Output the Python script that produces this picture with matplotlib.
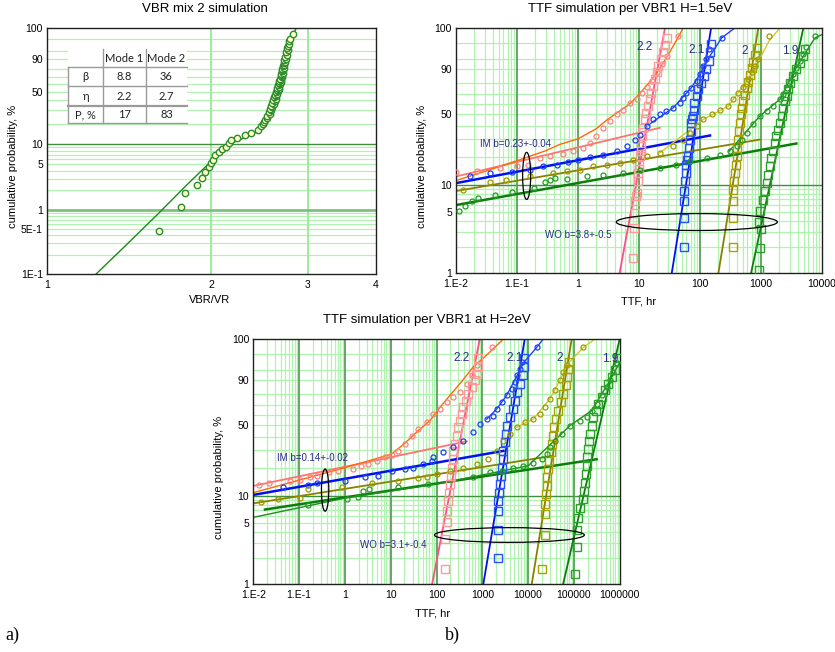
import numpy as np
import matplotlib
matplotlib.use("Agg")
import matplotlib.pyplot as plt
from matplotlib.patches import Ellipse, Rectangle
from matplotlib.lines import Line2D

# ---------------- data: a) VBR mixture ----------------
vbr_x = [1.60, 1.757, 1.79, 1.88, 1.92, 1.95, 1.98, 2.0, 2.01, 2.03, 2.06, 2.09, 2.13, 2.15,
         2.17, 2.23, 2.30, 2.36, 2.43, 2.46,
         2.48, 2.50, 2.505, 2.53, 2.525, 2.555, 2.545, 2.57, 2.56, 2.585, 2.575, 2.60, 2.585,
         2.61, 2.595, 2.62, 2.605, 2.625, 2.615, 2.64, 2.625, 2.645, 2.635, 2.655, 2.64, 2.66,
         2.648, 2.668, 2.655, 2.675, 2.66, 2.68, 2.668, 2.69, 2.675, 2.695, 2.682, 2.70, 2.688,
         2.708, 2.695, 2.715, 2.70, 2.72, 2.71, 2.728, 2.718, 2.735, 2.728, 2.745, 2.74, 2.755,
         2.75, 2.765, 2.77, 2.775, 2.78, 2.815]
vbr_p = [0.46, 1.1, 1.8, 2.45, 3.1, 3.8, 4.5, 5.2, 5.8, 6.9, 7.7, 8.5, 9.3, 10.4,
         11.6, 12.5, 13.7, 14.8, 16.3, 18.2,
         19.5, 21, 22.5, 24, 25.5, 27, 28.5, 30, 31.5, 33, 34.5, 36, 37.5,
         39, 40.5, 42, 43.5, 45, 46.5, 48, 49.5, 51, 52.5, 54, 55.5, 57,
         58.5, 60, 61.5, 63, 64.5, 66, 67.5, 69, 70.5, 72, 73.5, 75, 76.5,
         78, 79.5, 81, 82.5, 84, 85.5, 87, 88.5, 90, 91.5, 93, 94.5, 95.5,
         96.5, 97.3, 98, 98.6, 99.1, 99.6]
vbr_fit_x = [1.23, 1.4, 1.6, 1.8, 1.98, 2.1, 2.2, 2.35, 2.45, 2.52, 2.58, 2.63, 2.68, 2.72, 2.76, 2.8, 2.86]
vbr_fit_p = [0.1, 0.29, 0.88, 2.4, 5.2, 8, 10.8, 13.5, 16, 20, 30, 48, 70, 86, 96, 99.2, 99.9]

table_rows = [["", "Mode 1", "Mode 2"], ["β", "8.8", "36"], ["η", "2.2", "2.7"], ["P, %", "17", "83"]]

# ---------------- data: b) TTF at H=1.5eV ----------------
h15_c22_t = [0.01, 0.022, 0.053, 0.1, 0.153, 0.24, 0.35, 0.575, 0.84, 1.22, 1.57, 2.0, 2.6, 3.35,
             4.3, 5.5, 7.1, 9.2, 11.1, 13.4, 16.1, 19.5, 23.5, 28.3, 44]
h15_c22_p = [13.7, 14.3, 15.3, 16.2, 16.6, 19.5, 20.2, 21.4, 22.8, 24.8, 27.7, 32, 38.4, 43.9,
             50, 54.5, 61, 64.4, 70.2, 76.5, 81.5, 87.9, 92.8, 96.2, 99.6]
h15_s22_t = [8.1, 8.3, 8.6, 8.6, 9.0, 9.4, 9.8, 9.8, 10.0, 10.1, 10.4, 10.6, 10.8, 11.1, 11.4,
             11.7, 12.5, 13.2, 14.1, 15.0, 16.0, 17.1, 18.2, 19.5, 20.8, 22.7, 25.0, 26.7, 28.3]
h15_s22_p = [1.5, 3.3, 4.9, 6.6, 7.5, 8.2, 11, 13.5, 15, 16.6, 20.3, 23, 25.6, 32, 35,
             38.4, 45.4, 51.4, 57.8, 64.4, 71, 77, 83, 87.9, 91.9, 95, 97.3, 98.7, 99.5]
h15_c21_t = [0.017, 0.036, 0.082, 0.163, 0.27, 0.45, 0.69, 1.0, 1.57, 2.6, 4.3, 6.3, 8.6, 10.4,
             13.4, 17.1, 22, 28, 36.6, 47, 53, 60, 72, 88, 100, 113, 125, 143, 226]
h15_c21_p = [12.4, 13.5, 13.7, 14.7, 16, 16.6, 17.6, 18.7, 19.8, 21.1, 22.8, 25.6, 29.8, 33.3,
             39.8, 45.4, 50, 53, 56.3, 61, 66, 71, 75.5, 81.5, 86.8, 91.9, 95, 98.1, 99.5]
h15_s21_t = [55, 55, 55, 55, 57, 60, 60, 62, 64, 67, 69.5, 72, 72, 74, 76, 79.5, 81, 88, 93.5,
             105, 118, 127, 143, 147, 152]
h15_s21_p = [2, 4.3, 6.6, 8.5, 11, 13.5, 16.6, 18.5, 20.3, 24.7, 29.8, 35.7, 42.6, 45.5, 48.5,
             54.5, 61, 67.6, 74, 80, 85.6, 90, 94.4, 97.3, 98.9]
h15_c20_t = [0.013, 0.036, 0.067, 0.163, 0.39, 0.65, 1.08, 1.78, 2.95, 4.9, 8.1, 13.4, 22, 36.6,
             53, 68.6, 88, 113, 155, 212, 290, 352, 425, 513, 620, 705, 800, 903, 1370]
h15_c20_p = [8.9, 10.7, 11.5, 12.5, 13.5, 14.1, 14.7, 16, 16.6, 17.3, 18.7, 20.3, 22, 25.6,
             29.8, 34.6, 39.8, 45.4, 50, 54.5, 57.8, 64.4, 71, 76.5, 83, 87.9, 91.9, 95, 99.6]
h15_s20_t = [343, 343, 343, 352, 360, 375, 390, 400, 410, 425, 441, 453, 470, 482, 513, 547,
             582, 620, 660, 705, 748, 800, 850]
h15_s20_p = [2, 4.3, 6.6, 8.9, 11, 13.5, 16.6, 20.3, 24.7, 29.8, 35.7, 42.6, 50, 56.3, 62.5,
             68.8, 75, 81, 86, 90.5, 94, 96.5, 98.2]
h15_c19_t = [0.011, 0.014, 0.018, 0.023, 0.044, 0.082, 0.19, 0.29, 0.35, 0.42, 0.65, 1.39, 2.6,
             5.5, 10.4, 22, 41, 68.6, 129, 212, 308, 400, 482, 582, 748, 960, 1235, 1590, 2040,
             2310, 2620, 2960, 3360, 3800, 4300, 4900, 5500, 7670]
h15_c19_p = [5.1, 5.8, 6.6, 7.2, 7.8, 8.3, 9.3, 10.7, 11.4, 11.9, 11.6, 12.4, 13, 13.5, 14.7,
             15.3, 16.6, 18, 19.5, 21.1, 22.8, 25.6, 29.8, 34.6, 41.1, 48.5, 53, 57.8, 64.4,
             69.2, 75.6, 81.5, 86.8, 91, 94.4, 96.8, 98.4, 99.6]
h15_s19_t = [940, 960, 985, 940, 960, 1080, 1150, 1235, 1310, 1400, 1480, 1590, 1690, 1790,
             1900, 2040, 2170, 2310, 2460, 2620, 2790, 3040, 3360, 3800, 4300, 4900, 5180]
h15_s19_p = [1.1, 1.95, 3.2, 3.9, 5.1, 6.9, 8.5, 10.5, 13, 16, 19.5, 22.8, 27.7, 32, 37, 42.6,
             48.5, 56.3, 62.7, 67.6, 74, 80, 85.6, 90, 93.6, 96.2, 98.1]
h15_wo_t = [[4.8, 26.7], [34.4, 152], [200, 903], [686, 4940]]
h15_im_t = [[0.01, 22], [0.01, 146], [0.01, 955], [0.01, 3800]]
h15_im_p = [[12.4, 38.4], [10.5, 32.6], [8.6, 29.8], [6.0, 27.3]]
h15_cur22_t = [0.01, 0.03, 0.112, 0.3, 0.5, 1, 2, 2.95, 4.3, 6.3, 8, 10, 13, 17.1, 22, 28.3, 38, 53]
h15_cur22_p = [11.2, 14.1, 18.7, 23.2, 26.7, 30.3, 37.7, 44.8, 51.3, 57.8, 63.2, 69.2, 76.8, 84.3,
               90.8, 95.7, 98.9, 99.9]
h15_cur21_t = [13.4, 36.6, 72, 100, 143, 226, 372]
h15_cur21_p = [39.8, 56.3, 75.5, 86.8, 96, 99.5, 99.9]
h15_cur20_t = [22, 113, 290, 620, 903, 1370, 2040]
h15_cur20_p = [22, 45.4, 57.8, 83, 94, 99.3, 99.9]
h15_cur19_t = [300, 960, 2040, 3800, 5500, 7670, 10000]
h15_cur19_p = [22.8, 48.5, 64.4, 91, 97.5, 99.5, 99.7]

# ---------------- data: b) TTF at H=2eV ----------------
h20_c22_t = [0.013, 0.022, 0.063, 0.105, 0.173, 0.242, 0.44, 0.72, 1.52, 2.3, 3.2, 4.9, 7.5, 10.5,
             14.7, 20.5, 28.7, 40, 61, 85, 119, 166, 233, 325, 455, 585, 755, 1600]
h20_c22_p = [13.2, 13.9, 14.6, 15.1, 15.9, 16.5, 18, 18.6, 19.4, 21, 21.8, 23.6, 25.5, 27.2,
             29.3, 34.5, 41, 46.7, 52.7, 61, 65.7, 72.5, 77, 81.5, 87.8, 92.8, 96.7, 99.6]
h20_s22_t = [153, 153, 166, 166, 181, 190, 197, 204, 214, 226, 233, 253, 276, 300, 326, 355,
             385, 441, 495, 585, 690, 755, 815, 815]
h20_s22_p = [1.5, 3.3, 5.1, 6.8, 8.8, 10.9, 13.4, 16.5, 20.1, 24.5, 29.6, 34.5, 41, 48.3, 54.5,
             61, 67.5, 73.8, 80, 85.5, 90, 93.6, 96.2, 98.4]
h20_c21_t = [0.045, 0.159, 0.24, 1.0, 2.75, 5.4, 10.5, 20.5, 31, 51, 78.5, 85, 141, 233, 385, 630,
             890, 1245, 1740, 2065, 2655, 3410, 4370, 5175, 5800, 6650, 7250, 15400]
h20_c21_p = [12.4, 13.2, 13.7, 14.6, 15.9, 16.5, 18.6, 19.4, 20.1, 21.8, 23.6, 25.5, 28.7, 31.9,
             36.9, 43.9, 51.3, 55.8, 59.2, 65.7, 72.5, 78.6, 84.2, 89, 92.8, 95.7, 97.6, 99.6]
h20_s21_t = [2240, 2240, 2240, 2240, 2350, 2440, 2520, 2655, 2790, 2890, 3135, 3300, 3520, 4030,
             4610, 5180, 5820, 6650, 7590, 8120, 8260]
h20_s21_p = [2.0, 4.2, 6.9, 8.8, 10.9, 13.4, 16.5, 20.1, 24.5, 29.6, 36.1, 42.3, 49.8, 57.7,
             65.7, 73.8, 81.5, 87.8, 92.8, 96.2, 98.4]
h20_c20_t = [0.015, 0.035, 0.105, 0.159, 0.85, 3.85, 14.7, 40, 61, 100, 197, 385, 755, 1350, 2065,
             2890, 4030, 5620, 8500, 12900, 18000, 23300, 30000, 38700, 49700, 58600, 69000, 160000]
h20_c20_p = [8.6, 9.2, 9.6, 11.8, 12.6, 14, 14.6, 15.6, 16.1, 17.2, 18.6, 20.1, 21.8, 24.5, 29.6,
             36.9, 42.3, 48.3, 52.7, 55.8, 61, 67.5, 75.5, 82.8, 90, 94.3, 96.7, 99.6]
h20_s20_t = [19800, 23300, 23300, 23300, 24600, 25400, 26300, 27600, 29000, 31000, 32700, 35500,
             36700, 40600, 45700, 51500, 58600, 67000, 71800, 75500, 77800]
h20_s20_p = [1.5, 3.7, 6.3, 8.1, 10.5, 12.9, 15.9, 19.4, 23.6, 28.6, 34.5, 41, 48.3, 55.8, 64.2,
             72.5, 80, 86.7, 91.9, 95.7, 97.6]
h20_c19_t = [0.159, 1.1, 1.96, 2.5, 3.37, 14.7, 66, 630, 1470, 2650, 4750, 7850, 12900, 19800,
             25400, 30000, 38700, 54000, 82200, 135000, 190000, 245000, 314000, 404000, 520000,
             615000, 726000, 860000]
h20_c19_p = [7.9, 9.2, 9.8, 11.3, 11.8, 12.6, 13.4, 15.9, 18, 18.6, 20.1, 21, 22.7, 24.5, 27.6,
             31.9, 36.9, 42.3, 49.8, 54.5, 57.7, 64.2, 70.8, 78.6, 85.5, 90, 94.3, 97.3]
h20_s19_t = [106000, 115000, 115000, 125000, 136000, 160000, 166000, 175000, 184000, 190000,
             196000, 207000, 217000, 224000, 245000, 265000, 302000, 339000, 404000, 479000,
             563000, 668000, 789000, 934000]
h20_s19_p = [1.3, 2.7, 4.2, 5.7, 7.4, 9.2, 11.3, 14, 17.2, 21, 25.5, 30.8, 36.9, 42.3, 49.8, 57.7,
             64.2, 70.8, 76.9, 82.8, 87.7, 91.9, 95, 98.4]
h20_wo_t = [[80, 880], [1050, 8450], [12000, 89500], [58000, 1000000]]
h20_im_t = [[0.01, 455], [0.01, 2890], [0.01, 35000], [0.018, 314000]]
h20_im_p = [[12.9, 36.4], [10.3, 29.6], [8.3, 26.5], [7.1, 24.5]]
h20_cur22_t = [0.01, 1, 3, 10.5, 20, 40, 72, 120, 197, 350, 630, 1200, 2900]
h20_cur22_p = [10.9, 20.1, 23.3, 27.6, 34.8, 45.2, 54.5, 67.6, 78.6, 89, 96.2, 98.8, 99.9]
h20_cur21_t = [1245, 2065, 3410, 5800, 8000, 15400, 21500]
h20_cur21_p = [55.8, 65.7, 78.6, 92.8, 97.5, 99.6, 99.9]
h20_cur20_t = [5620, 12900, 30000, 49700, 69000, 160000, 290000]
h20_cur20_p = [48.3, 55.8, 75.5, 90, 96.7, 99.6, 99.9]
h20_cur19_t = [0.01, 1, 100, 10000, 82200, 245000, 615000, 1000000]
h20_cur19_p = [5.8, 9.5, 13.5, 21, 49.8, 64.2, 90, 97.5]

wo_p = [1, 99.9]
group_names = ["2.2", "2.1", "2", "1.9"]

# colours per group: circles, squares, WO line, IM line, fit curve
grp_style = [
    ("#ff8080", "#ff9a9a", "#ff4f88", "#ff7373", "#ff6a00"),
    ("#1c3cff", "#2850ff", "#0010f0", "#0010f0", "#2040ff"),
    ("#a09800", "#aaa200", "#8a8000", "#8a8000", "#d0c830"),
    ("#239b23", "#2d9f2d", "#0b7d0b", "#0b7d0b", "#1a8f1a"),
]

LIGHT = "#b0f2b0"
DARK = "#5a9e5a"
TXT = "#2b2b8a"
FONT = ["Liberation Sans", "DejaVu Sans"]
plt.rcParams["font.family"] = FONT


def fwd(p):
    p = np.clip(np.asarray(p, dtype=float), 1e-5, 99.999)
    return np.log(-np.log(1 - p / 100.0))


def inv(w):
    return 100.0 * (1 - np.exp(-np.exp(np.asarray(w, dtype=float))))


def weibull_axis(ax, pmin, yticks, ylabels):
    ax.set_yscale("function", functions=(fwd, inv))
    ax.set_ylim(pmin, 99.9)
    ax.set_yticks(yticks)
    ax.set_yticklabels(ylabels)
    ax.yaxis.set_minor_locator(matplotlib.ticker.NullLocator())
    minor = [2, 3, 4, 5, 6, 7, 8, 9, 20, 30, 40, 50, 60, 70, 80, 90, 95, 99]
    if pmin < 1:
        minor = [0.2, 0.3, 0.4, 0.5, 0.6, 0.7, 0.8, 0.9] + minor
    for p in minor:
        ax.axhline(p, color=LIGHT, lw=0.9, zorder=0)
    ax.axhline(10, color="#3f8f3f", lw=1.0, zorder=0.5)
    ax.tick_params(length=0, labelsize=7.5, pad=3)
    ax.tick_params(axis="x", pad=4)
    for s in ax.spines.values():
        s.set_color("#202020")
        s.set_linewidth(1.0)


fig = plt.figure(figsize=(8.35, 6.52), dpi=100)

# ---------------- panel a ----------------
axa = fig.add_axes([47 / 835, 1 - 274 / 652, 329 / 835, 246 / 652])
axa.set_xscale("log")
axa.set_xlim(1, 4)
weibull_axis(axa, 0.1, [0.1, 0.5, 1, 5, 10, 50, 90, 99.9],
             ["1E-1", "5E-1", "1", "5", "10", "50", "90", "100"])
axa.axhline(1, color="#80c080", lw=2.0, zorder=0.5)
axa.set_xticks([1, 2, 3, 4])
axa.set_xticklabels(["1", "2", "3", "4"])
axa.xaxis.set_minor_locator(matplotlib.ticker.NullLocator())
for v in [2, 3]:
    axa.axvline(v, color="#9aee9a", lw=1.4, zorder=0)
axa.plot(vbr_fit_x, vbr_fit_p, color="#1a8a1a", lw=1.0, zorder=2)
axa.plot(vbr_x, vbr_p, "o", ms=4.6, mfc="#ffffc8", mec="#2e8b2e", mew=1.0, zorder=3)
axa.set_title("VBR mix 2 simulation", fontsize=9.5, x=0.48, y=1.03)
axa.set_xlabel("VBR/VR", fontsize=8)
axa.xaxis.set_label_coords(0.495, -0.085)
axa.set_ylabel("cumulative probability, %", fontsize=8)
axa.yaxis.set_label_coords(-0.088, 0.437)

# table (figure pixel positions)
def fp(x, y):
    return x / 835, 1 - y / 652

col_edges = [68.3, 103.3, 145.7, 187.3]
row_edges = [49.3, 66.7, 86.0, 106.0, 123.3]
x0, y1 = fp(col_edges[0], row_edges[-1])
x1, y0 = fp(col_edges[-1], row_edges[0])
fig.add_artist(Rectangle((x0, y1), x1 - x0, y0 - y1, transform=fig.transFigure,
                         facecolor="white", edgecolor="none", zorder=5))
for i, yv in enumerate(row_edges[1:]):
    a = fp(col_edges[0], yv)
    b = fp(col_edges[-1], yv)
    lw = 1.6 if i == 2 else 1.0
    fig.add_artist(Line2D([a[0], b[0]], [a[1], b[1]], transform=fig.transFigure,
                          color="#9a9a9a", lw=lw, zorder=6))
for j, xv in enumerate(col_edges[:3]):
    ytop = row_edges[1] if j == 0 else row_edges[0]
    a = fp(xv, ytop)
    b = fp(xv, row_edges[-1])
    fig.add_artist(Line2D([a[0], b[0]], [a[1], b[1]], transform=fig.transFigure,
                          color="#9a9a9a", lw=1.0, zorder=6))
for r, row in enumerate(table_rows):
    yc = (row_edges[r] + row_edges[r + 1]) / 2
    for c, txt in enumerate(row):
        xc = (col_edges[c] + col_edges[c + 1]) / 2
        fx, fy = fp(xc, yc)
        fig.text(fx, fy, txt, ha="center", va="center", fontsize=8,
                 family=["Lato", "DejaVu Sans"], color="#202020", zorder=7)


# ---------------- right panels ----------------
def ttf_panel(ax, xmax, circ, squa, wo_t, im_t, im_p, curves, title, im_txt, wo_txt,
              label_pos, im_pos, wo_pos, ell1, ell2):
    ax.set_xscale("log")
    ax.set_xlim(0.01, xmax)
    weibull_axis(ax, 1, [1, 5, 10, 50, 90, 99.9], ["1", "5", "10", "50", "90", "100"])
    decs = np.arange(-2, int(round(np.log10(xmax))) + 1)
    ax.set_xticks([10.0 ** d for d in decs])
    lab = {-2: "1.E-2", -1: "1.E-1"}
    ax.set_xticklabels([str(int(10 ** d)) if d >= 0 else lab[d] for d in decs])
    ax.xaxis.set_minor_locator(matplotlib.ticker.NullLocator())
    for d in decs[:-1]:
        for k in range(2, 10):
            ax.axvline(k * 10.0 ** d, color=LIGHT, lw=0.9, zorder=0)
        if d > -2:
            ax.axvline(10.0 ** d, color=DARK, lw=1.3, zorder=0.5)
    for g in range(4):
        cc, sc, woc, imc, cuc = grp_style[g]
        ax.plot(wo_t[g], wo_p, color=woc, lw=1.3, zorder=2)
        ax.plot(im_t[g], im_p[g], color=imc, lw=1.8 if g in (1, 3) else 1.3, zorder=2)
        ax.plot(curves[g][0], curves[g][1], color=cuc, lw=1.0, zorder=2)
        ax.plot(circ[g][0], circ[g][1], "o", ms=3.6, mfc="none", mec=cc, mew=0.9, zorder=3)
        ax.plot(squa[g][0], squa[g][1], "s", ms=5.2, mfc="none", mec=sc, mew=1.0, zorder=3)
    for g, (lx, ly) in enumerate(label_pos):
        ax.text(lx, ly, group_names[g], transform=ax.transAxes, color=TXT, fontsize=8.5,
                ha="center", va="center", zorder=4)
    ax.text(im_pos[0], im_pos[1], im_txt, transform=ax.transAxes, color=TXT, fontsize=7,
            ha="left", va="center", zorder=4)
    ax.text(wo_pos[0], wo_pos[1], wo_txt, transform=ax.transAxes, color=TXT, fontsize=7,
            ha="left", va="center", zorder=4)
    for (cx, cy, w, h) in (ell1, ell2):
        ax.add_patch(Ellipse((cx, cy), w, h, transform=ax.transAxes, fill=False,
                             edgecolor="black", lw=0.9, zorder=4))
    ax.set_title(title, fontsize=9.5, x=0.475, y=1.03)
    ax.set_xlabel("TTF, hr", fontsize=8)
    ax.xaxis.set_label_coords(0.5, -0.095)
    ax.set_ylabel("cumulative probability, %", fontsize=8)
    ax.yaxis.set_label_coords(-0.079, 0.435)


axb1 = fig.add_axes([456 / 835, 1 - 273.3 / 652, 366 / 835, 245.3 / 652])
ttf_panel(axb1, 1e4,
          [(h15_c22_t, h15_c22_p), (h15_c21_t, h15_c21_p), (h15_c20_t, h15_c20_p), (h15_c19_t, h15_c19_p)],
          [(h15_s22_t, h15_s22_p), (h15_s21_t, h15_s21_p), (h15_s20_t, h15_s20_p), (h15_s19_t, h15_s19_p)],
          h15_wo_t, h15_im_t, h15_im_p,
          [(h15_cur22_t, h15_cur22_p), (h15_cur21_t, h15_cur21_p), (h15_cur20_t, h15_cur20_p),
           (h15_cur19_t, h15_cur19_p)],
          "TTF simulation per VBR1 H=1.5eV", "IM b=0.23+-0.04", "WO b=3.8+-0.5",
          [(0.516, 0.923), (0.658, 0.910), (0.79, 0.906), (0.913, 0.906)],
          (0.066, 0.527), (0.243, 0.156),
          (0.193, 0.397, 0.022, 0.192), (0.658, 0.209, 0.44, 0.069))

axb2 = fig.add_axes([253.3 / 835, 1 - 584.3 / 652, 366.4 / 835, 245.3 / 652])
ttf_panel(axb2, 1e6,
          [(h20_c22_t, h20_c22_p), (h20_c21_t, h20_c21_p), (h20_c20_t, h20_c20_p), (h20_c19_t, h20_c19_p)],
          [(h20_s22_t, h20_s22_p), (h20_s21_t, h20_s21_p), (h20_s20_t, h20_s20_p), (h20_s19_t, h20_s19_p)],
          h20_wo_t, h20_im_t, h20_im_p,
          [(h20_cur22_t, h20_cur22_p), (h20_cur21_t, h20_cur21_p), (h20_cur20_t, h20_cur20_p),
           (h20_cur19_t, h20_cur19_p)],
          "TTF simulation per VBR1 at H=2eV", "IM b=0.14+-0.02", "WO b=3.1+-0.4",
          [(0.569, 0.921), (0.714, 0.923), (0.837, 0.923), (0.973, 0.918)],
          (0.065, 0.514), (0.291, 0.16),
          (0.196, 0.384, 0.02, 0.172), (0.699, 0.201, 0.409, 0.06))
axb2.xaxis.set_label_coords(0.49, -0.097)

fig.text(5 / 835, 1 - 635 / 652, "a)", fontsize=13, family=["Liberation Serif", "DejaVu Serif"],
         va="center", ha="left")
fig.text(445 / 835, 1 - 635 / 652, "b)", fontsize=13, family=["Liberation Serif", "DejaVu Serif"],
         va="center", ha="left")

fig.savefig("out.png", dpi=100)
